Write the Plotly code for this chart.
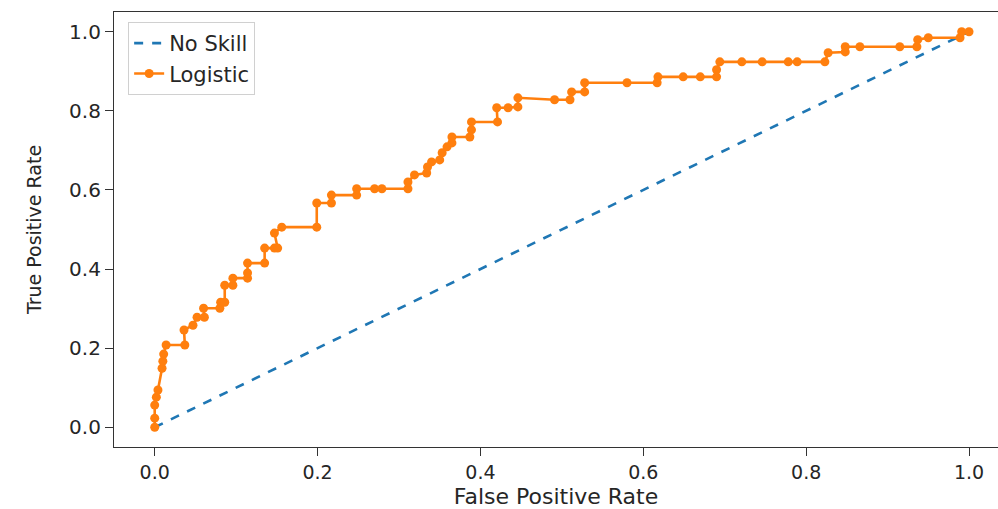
import plotly.graph_objects as go

# ROC curve of the logistic model (false positive rate, true positive rate)
fpr = [0.000, 0.000, 0.000, 0.002, 0.004, 0.009, 0.010, 0.011, 0.014, 0.037,
       0.036, 0.047, 0.052, 0.061, 0.060, 0.080, 0.081, 0.086, 0.086, 0.096,
       0.096, 0.114, 0.114, 0.114, 0.135, 0.135, 0.147, 0.151, 0.147, 0.156,
       0.199, 0.199, 0.217, 0.217, 0.248, 0.248, 0.270, 0.279, 0.311, 0.311,
       0.319, 0.334, 0.335, 0.340, 0.350, 0.353, 0.359, 0.365, 0.365, 0.387,
       0.389, 0.389, 0.421, 0.420, 0.434, 0.446, 0.446, 0.491, 0.510, 0.512,
       0.528, 0.528, 0.580, 0.617, 0.618, 0.649, 0.670, 0.690, 0.690, 0.694,
       0.721, 0.746, 0.778, 0.789, 0.823, 0.827, 0.848, 0.848, 0.866, 0.915,
       0.936, 0.937, 0.950, 0.989, 0.991, 1.000]
tpr = [0.000, 0.023, 0.056, 0.076, 0.094, 0.149, 0.167, 0.185, 0.208, 0.208,
       0.246, 0.258, 0.278, 0.278, 0.301, 0.301, 0.316, 0.316, 0.359, 0.359,
       0.377, 0.377, 0.390, 0.415, 0.415, 0.453, 0.453, 0.453, 0.491, 0.506,
       0.506, 0.567, 0.567, 0.587, 0.587, 0.603, 0.603, 0.603, 0.603, 0.620,
       0.638, 0.643, 0.658, 0.671, 0.676, 0.694, 0.709, 0.719, 0.734, 0.734,
       0.752, 0.772, 0.772, 0.808, 0.808, 0.810, 0.833, 0.828, 0.828, 0.848,
       0.848, 0.871, 0.871, 0.871, 0.886, 0.886, 0.886, 0.886, 0.904, 0.924,
       0.924, 0.924, 0.924, 0.924, 0.924, 0.947, 0.949, 0.962, 0.962, 0.962,
       0.962, 0.980, 0.985, 0.985, 1.000, 1.000]

# No-skill reference line
ns_fpr = [0.0, 1.0]
ns_tpr = [0.0, 1.0]

tick_vals = [0.0, 0.2, 0.4, 0.6, 0.8, 1.0]
tick_text = ["0.0", "0.2", "0.4", "0.6", "0.8", "1.0"]

font_family = "DejaVu Sans, sans-serif"
ink = "#262626"

fig = go.Figure()
fig.add_trace(go.Scatter(
    x=ns_fpr, y=ns_tpr, mode="lines", name="No Skill",
    line=dict(color="#1f77b4", width=2.6, dash="dash"),
))
fig.add_trace(go.Scatter(
    x=fpr, y=tpr, mode="lines+markers", name="Logistic",
    line=dict(color="#ff7f0e", width=2.6),
    marker=dict(color="#ff7f0e", size=9),
))

fig.update_layout(
    width=998, height=509,
    margin=dict(l=114, r=0, t=12, b=62),
    plot_bgcolor="white", paper_bgcolor="white",
    showlegend=True,
    legend=dict(
        x=0.016, y=0.977, xanchor="left", yanchor="top",
        bgcolor="rgba(255,255,255,0.8)", bordercolor="#d0d0d0", borderwidth=1,
        font=dict(family=font_family, size=21, color=ink),
        tracegroupgap=0,
    ),
)
fig.update_xaxes(
    range=[-0.05, 1.0356], showgrid=False, zeroline=False, automargin=False,
    showline=True, linecolor="#333", linewidth=1.2, mirror=True,
    ticks="outside", ticklen=8, tickcolor="#333",
    tickvals=tick_vals, ticktext=tick_text,
    tickfont=dict(family=font_family, size=19, color=ink),
    title=dict(text="False Positive Rate", font=dict(family=font_family, size=22, color=ink), standoff=8),
)
fig.update_yaxes(
    range=[-0.05, 1.05], showgrid=False, zeroline=False, automargin=False,
    showline=True, linecolor="#333", linewidth=1.2, mirror=False,
    ticks="outside", ticklen=8, tickcolor="#333",
    tickvals=tick_vals, ticktext=tick_text,
    tickfont=dict(family=font_family, size=20, color=ink),
    title=dict(text="True Positive Rate", font=dict(family=font_family, size=19, color=ink), standoff=22),
)

fig.write_html("out.html")
